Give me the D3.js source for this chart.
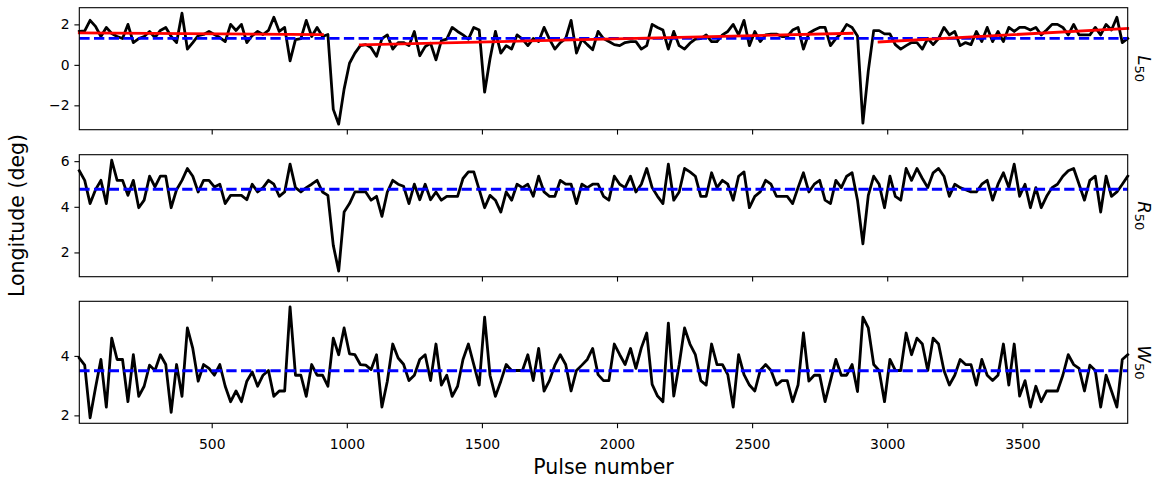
<!DOCTYPE html>
<html><head><meta charset="utf-8">
<script src="https://cdn.jsdelivr.net/npm/d3@7"></script>
<style>body{margin:0;background:#fff} svg{display:block} text{font-family:"DejaVu Sans",sans-serif}</style>
</head><body><svg id="c" width="1159" height="480"></svg>
<script>
const pulseStart = 10, pulseStep = 20;
const L50 = [1.65,1.68,2.2,1.9,1.4,1.85,1.55,1.4,1.3,2.0,
1.1,1.3,1.4,1.65,1.35,1.7,1.85,1.4,1.1,2.55,
0.78,1.1,1.45,1.5,1.65,1.5,1.35,1.15,2.0,1.7,
2.0,1.1,1.45,1.65,1.5,1.7,2.35,1.65,1.85,0.2,
1.25,1.3,2.2,1.4,1.85,1.4,1.5,-2.2,-2.93,-1.2,
0.08,0.58,0.95,1.0,0.85,0.42,1.3,1.48,0.78,1.1,
1.1,0.95,1.65,0.45,0.9,1.07,0.25,1.2,1.27,1.85,
1.65,1.48,1.27,1.85,1.72,-1.35,0.3,1.65,0.58,0.95,
0.78,1.48,1.27,0.95,1.3,1.15,1.85,1.27,0.78,1.1,
1.3,2.2,0.58,1.27,1.0,0.75,1.65,1.3,1.15,1.0,
0.95,1.1,1.15,1.15,0.78,0.95,2.0,1.85,1.72,0.78,
1.65,0.95,0.78,1.07,1.27,1.3,1.48,1.15,1.15,1.48,
1.65,2.0,1.48,2.2,0.95,1.65,1.15,1.48,1.52,1.52,
1.4,1.4,1.72,1.85,0.78,1.56,1.72,1.85,1.85,0.95,
1.3,1.56,2.0,1.85,1.43,-2.88,-0.3,1.69,1.69,1.53,
1.53,1.0,0.78,0.95,1.1,1.1,0.78,1.3,1.0,1.3,
1.85,1.48,1.65,0.95,1.1,1.0,1.65,1.15,1.85,1.15,
1.65,1.15,1.85,1.65,1.85,1.85,1.72,1.85,1.48,1.72,
2.0,2.0,1.85,1.48,2.0,1.48,1.48,1.48,1.85,1.48,
2.0,1.72,2.35,1.1,1.3];
const R50 = [5.58,5.16,4.14,4.75,5.16,4.14,6.04,5.16,5.16,4.5,
5.16,3.96,4.29,5.34,4.87,5.34,5.34,3.96,4.75,5.16,
5.68,5.34,4.65,5.16,5.16,4.87,4.99,4.14,4.5,4.5,
4.5,4.31,4.99,4.65,4.84,5.16,4.99,4.46,4.65,5.87,
4.84,4.65,4.84,4.99,5.16,4.65,4.5,2.31,1.18,3.77,
4.14,4.65,4.65,4.65,4.29,4.46,3.58,4.65,5.16,4.99,
4.9,4.14,4.99,4.31,4.99,4.31,4.65,4.29,4.46,4.46,
4.46,5.24,5.53,5.53,4.75,3.96,4.5,4.29,3.77,4.65,
4.29,4.99,4.84,4.99,4.46,5.34,4.65,4.46,4.46,5.16,
4.99,4.99,4.14,4.99,4.84,4.99,4.99,4.46,4.29,5.34,
4.99,4.84,5.34,4.65,4.99,5.68,4.84,4.46,4.14,5.87,
4.29,4.65,5.68,5.53,5.34,4.46,4.46,5.49,4.84,5.16,
4.99,4.29,5.34,5.53,3.96,4.46,4.65,5.16,4.99,4.46,
4.46,4.46,4.14,4.84,5.49,4.65,4.99,5.16,4.29,4.14,
5.16,4.84,5.34,5.49,4.29,2.38,4.5,5.34,4.99,3.96,
5.34,4.46,4.29,5.68,5.16,5.68,5.24,4.84,5.49,5.68,
5.34,4.46,4.99,4.84,4.75,4.65,4.65,4.99,5.16,4.29,
4.99,5.49,4.84,5.87,4.46,4.99,3.96,4.84,3.96,4.46,
4.84,4.99,5.34,5.58,5.68,4.99,4.29,5.16,5.34,3.77,
5.34,4.46,4.65,4.99,5.34];
const W50 = [3.93,3.69,1.92,2.93,3.88,2.28,4.6,3.88,3.88,2.46,
4.04,2.64,2.98,3.69,3.51,4.04,3.71,2.1,3.71,2.64,
4.94,4.25,3.15,3.71,3.58,3.35,3.71,2.98,2.46,2.82,
2.46,3.15,3.46,2.98,3.35,3.51,2.64,2.82,2.82,5.65,
3.35,3.35,2.64,3.71,3.35,3.35,2.98,4.6,4.04,4.94,
4.07,4.04,3.71,3.69,3.54,4.04,2.28,3.15,4.4,3.93,
3.72,3.17,3.35,3.88,4.04,3.17,4.4,3.02,3.35,2.64,
2.98,3.88,4.4,3.71,3.02,5.3,3.35,2.64,3.15,3.71,
3.51,3.51,3.51,4.04,3.17,4.25,2.82,3.17,3.69,4.04,
3.71,2.82,3.51,3.69,3.88,4.25,3.37,3.17,3.17,4.4,
4.04,3.71,4.25,3.58,4.27,4.77,3.04,2.65,2.46,5.1,
2.65,3.71,4.94,4.4,4.04,3.17,3.02,4.4,3.71,3.71,
3.37,2.28,4.04,3.37,3.02,2.82,3.51,3.71,3.51,3.02,
3.17,3.17,2.46,3.02,4.77,3.15,3.35,3.35,2.46,3.17,
3.88,3.35,3.35,3.71,2.8,5.3,4.94,3.71,3.51,2.46,
3.88,3.51,3.51,4.77,4.04,4.6,4.4,3.51,4.6,4.4,
3.51,3.02,3.35,3.88,3.71,3.71,3.02,3.88,3.35,3.17,
3.35,4.4,3.02,4.4,2.65,3.17,2.28,2.98,2.46,2.82,
2.82,2.82,3.35,4.04,3.71,3.58,2.82,3.69,3.51,2.28,
3.35,2.82,2.28,3.88,4.04];
const meanValues = [1.31, 4.77, 3.50];
const panelLetters = ["L", "R", "W"];
const panelSub = "50";
const fitStart = [10, 1050, 2970];
const fitEnd = [910, 2870, 3890];
const fitStartValue = [1.58, 0.99, 1.13];
const fitEndValue = [1.49, 1.56, 1.80];
const xTicks = [500, 1000, 1500, 2000, 2500, 3000, 3500];
const yTicks = [[-2, 0, 2], [2, 4, 6], [2, 4]];
const xLabel = "Pulse number";
const yLabel = "Longitude (deg)";

const series = [L50, R50, W50];
const pulses = L50.map((_, i) => pulseStart + i * pulseStep);

const svg = d3.select("#c");
const left = 79.3, right = 1127.7, panelH = 122;
const tops = [7.7, 154.7, 301.3];
const tickFont = 13.9, tickLen = 4.9;
const fmt = d3.format("d");

const x = d3.scaleLinear().domain([pulses[0], pulses[pulses.length - 1]]).range([left, right]);

series.forEach((vals, p) => {
  const top = tops[p], bottom = top + panelH;
  let [mn, mx] = d3.extent(vals);
  const pad = (mx - mn) * 0.05;
  const y = d3.scaleLinear().domain([mn - pad, mx + pad]).range([bottom, top]);
  const g = svg.append("g");

  const line = d3.line().x((d, i) => x(pulses[i])).y(d => y(d));
  g.append("path").datum(vals).attr("d", line)
    .attr("fill", "none").attr("stroke", "#000").attr("stroke-width", 2.8)
    .attr("stroke-linejoin", "round").attr("stroke-linecap", "square");

  g.append("line")
    .attr("x1", x(pulses[0])).attr("x2", x(pulses[pulses.length - 1]))
    .attr("y1", y(meanValues[p])).attr("y2", y(meanValues[p]))
    .attr("stroke", "#0000ff").attr("stroke-width", 2.8)
    .attr("stroke-dasharray", "10.3 4.4");

  if (p === 0) {
    fitStart.forEach((s, i) => {
      g.append("line")
        .attr("x1", x(s)).attr("x2", x(fitEnd[i]))
        .attr("y1", y(fitStartValue[i])).attr("y2", y(fitEndValue[i]))
        .attr("stroke", "#ff0000").attr("stroke-width", 2.8)
        .attr("stroke-linecap", "square");
    });
  }

  const xa = d3.axisBottom(x).tickValues(xTicks).tickSizeInner(tickLen).tickSizeOuter(0).tickPadding(10.5)
    .tickFormat(p < 2 ? "" : fmt);
  const gx = g.append("g").attr("transform", `translate(0,${bottom})`).call(xa);
  gx.select(".domain").remove();
  gx.selectAll(".tick line").attr("stroke", "#000").attr("stroke-width", 1.1);
  gx.selectAll("text").attr("font-size", tickFont).attr("fill", "#000").attr("font-family", "DejaVu Sans");

  const ya = d3.axisLeft(y).tickValues(yTicks[p]).tickSizeInner(tickLen).tickSizeOuter(0).tickPadding(4.9)
    .tickFormat(fmt);
  const gy = g.append("g").attr("transform", `translate(${left},0)`).call(ya);
  gy.select(".domain").remove();
  gy.selectAll(".tick line").attr("stroke", "#000").attr("stroke-width", 1.1);
  gy.selectAll("text").attr("font-size", tickFont).attr("fill", "#000").attr("font-family", "DejaVu Sans");

  g.append("rect").attr("x", left).attr("y", top).attr("width", right - left).attr("height", panelH)
    .attr("fill", "none").attr("stroke", "#000").attr("stroke-width", 1.1);

  const lab = g.append("text")
    .attr("transform", `translate(1137.5,${top + panelH / 2}) rotate(90)`)
    .attr("text-anchor", "middle").attr("font-size", 18).attr("fill", "#000");
  lab.append("tspan").attr("font-style", "italic").text(panelLetters[p]);
  lab.append("tspan").attr("font-size", 13).attr("dy", 3).text(panelSub);
});

svg.append("text").attr("x", (left + right) / 2).attr("y", 474.3)
  .attr("text-anchor", "middle").attr("font-size", 20.5).attr("fill", "#000").text(xLabel);
svg.append("text").attr("transform", `translate(24,${(tops[0] + tops[2] + panelH) / 2}) rotate(-90)`)
  .attr("text-anchor", "middle").attr("font-size", 20.5).attr("fill", "#000").text(yLabel);
</script></body></html>
